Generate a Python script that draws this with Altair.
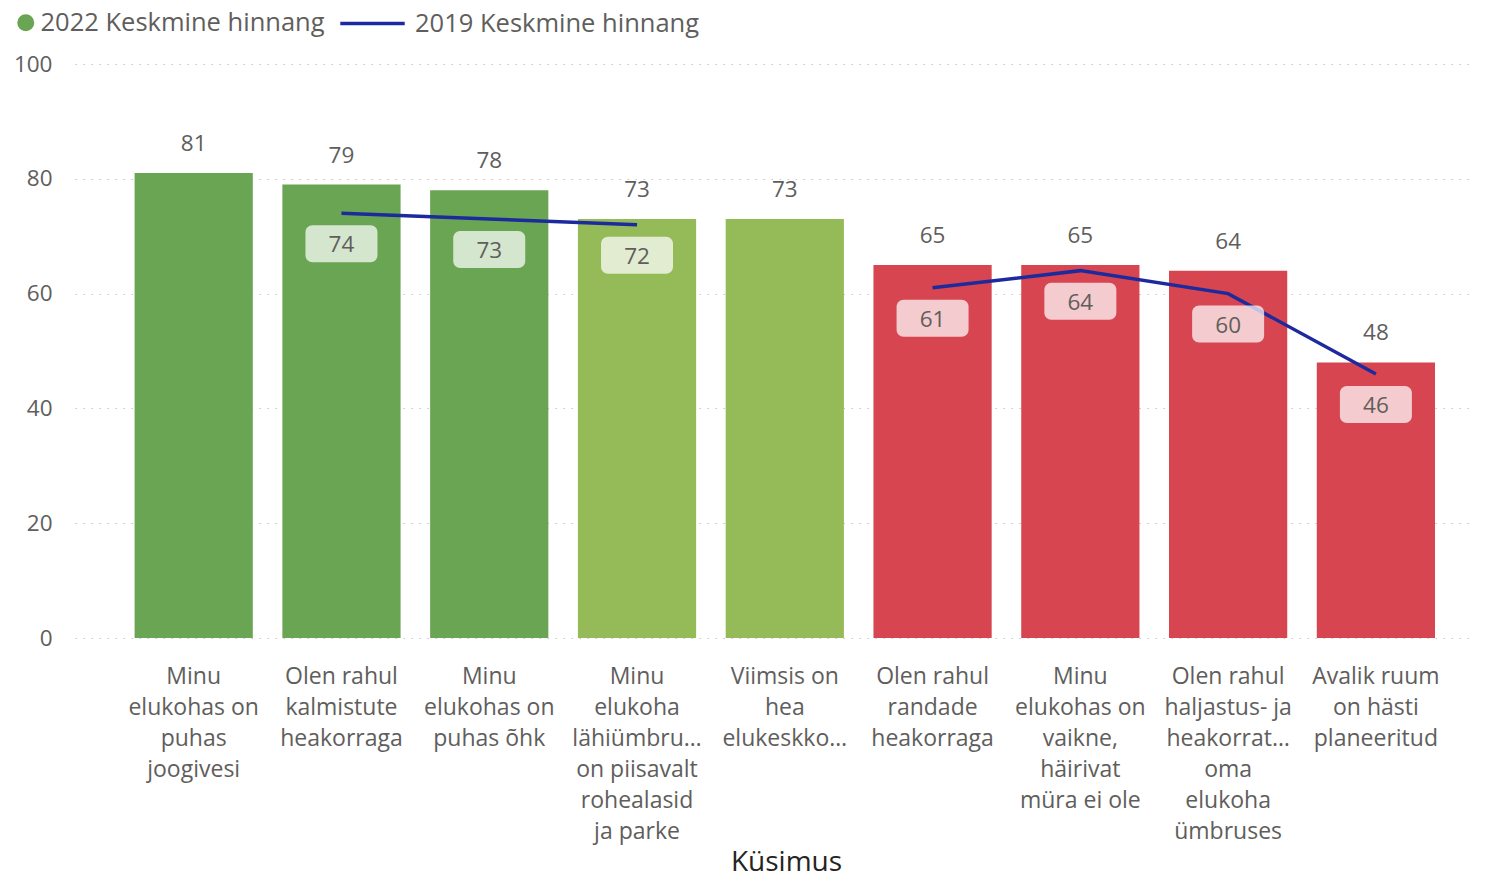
import altair as alt
import pandas as pd

# ---- data ----
categories = [
    "Minu|elukohas on|puhas|joogivesi",
    "Olen rahul|kalmistute|heakorraga",
    "Minu|elukohas on|puhas õhk",
    "Minu|elukoha|lähiümbru…|on piisavalt|rohealasid|ja parke",
    "Viimsis on|hea|elukeskko…",
    "Olen rahul|randade|heakorraga",
    "Minu|elukohas on|vaikne,|häirivat|müra ei ole",
    "Olen rahul|haljastus- ja|heakorrat…|oma|elukoha|ümbruses",
    "Avalik ruum|on hästi|planeeritud",
]
values_2022 = [81, 79, 78, 73, 73, 65, 65, 64, 48]
values_2019 = [None, 74, 73, 72, None, 61, 64, 60, 46]
segment_2019 = [None, "a", "a", "a", None, "b", "b", "b", "b"]
tier = ["high", "high", "high", "mid", "mid", "low", "low", "low", "low"]
tier_names = ["high", "mid", "low"]
tier_colors = ["#6aa553", "#95ba58", "#d64550"]
series_2022 = "2022 Keskmine hinnang"
series_2019 = "2019 Keskmine hinnang"
color_2022 = "#6aa553"
color_2019 = "#1c2a9e"
y_ticks = [0, 20, 40, 60, 80, 100]

FONT = "Segoe UI, Open Sans, sans-serif"
GREY = "#605e5c"

df = pd.DataFrame({
    "cat": categories,
    "v2022": values_2022,
    "v2019": values_2019,
    "seg": segment_2019,
    "tier": tier,
    "series": series_2022,
})
df19 = df.dropna(subset=["v2019"]).copy()
df19["series"] = series_2019

xs = alt.X("cat:N", sort=categories)
x = alt.X(
    "cat:N",
    sort=categories,
    scale=alt.Scale(paddingInner=0.2, paddingOuter=0.32, align=0.63),
    axis=alt.Axis(
        title="Küsimus",
        labelExpr="split(datum.label, '|')",
        labelAngle=0,
        labelAlign="center",
        labelFont=FONT,
        labelFontSize=23,
        labelColor=GREY,
        labelLineHeight=31,
        labelPadding=27,
        labelLimit=400,
        labelBaseline="top",
        ticks=False,
        domain=False,
        grid=False,
        titleFont=FONT,
        titleFontSize=28,
        titleFontWeight="normal",
        titleColor="#252423",
        titlePadding=10,
        titleX=711,
        titleAlign="center",
    ),
)
y_scale = alt.Scale(domain=[0, 100], nice=False)
y_axis = alt.Axis(
    title=None,
    values=y_ticks,
    labelFont=FONT,
    labelFontSize=22.5,
    labelColor=GREY,
    labelPadding=23,
    ticks=False,
    domain=False,
    grid=True,
    gridColor="#c8c8c8",
    gridDash=[1.5, 6.5],
    gridWidth=1.2,
)

legend_common = dict(
    title=None,
    orient="none",
    direction="horizontal",
    labelFont=FONT,
    labelFontSize=25.5,
    labelColor=GREY,
    labelLimit=500,
    legendY=-54,
)

# legend carrier for the 2022 series: circles sitting inside the bars
legend_pts = alt.Chart(df).mark_circle(size=100, yOffset=120, opacity=1).encode(
    x=xs,
    y=alt.Y("v2022:Q", scale=y_scale),
    color=alt.Color(
        "series:N",
        scale=alt.Scale(domain=[series_2022], range=[color_2022]),
        legend=alt.Legend(legendX=-62, symbolType="circle", symbolSize=289, labelOffset=2,
                          **legend_common),
    ),
)

bars = alt.Chart(df).mark_bar().encode(
    x=x,
    y=alt.Y("v2022:Q", scale=y_scale, axis=y_axis),
    fill=alt.Fill("tier:N", scale=alt.Scale(domain=tier_names, range=tier_colors), legend=None),
)

bar_labels = alt.Chart(df).mark_text(
    font=FONT, fontSize=22.5, color=GREY, baseline="middle", dy=-29
).encode(x=xs, y=alt.Y("v2022:Q", scale=y_scale), text="v2022:Q")

line = alt.Chart(df19).mark_line(strokeWidth=3.5).encode(
    x=xs,
    y=alt.Y("v2019:Q", scale=y_scale),
    detail="seg:N",
    stroke=alt.Stroke(
        "series:N",
        scale=alt.Scale(domain=[series_2019], range=[color_2019]),
        legend=alt.Legend(legendX=284, symbolType="M-2.8,0H2.8", symbolSize=529,
                          symbolStrokeWidth=3.5, labelOffset=29, **legend_common),
    ),
)

boxes = alt.Chart(df19).mark_bar(
    width=72, yOffset=12, y2Offset=49, cornerRadius=7, color="white", opacity=0.72
).encode(x=xs, y=alt.Y("v2019:Q", scale=y_scale), y2="v2019:Q")

box_labels = alt.Chart(df19).mark_text(
    font=FONT, fontSize=22.5, color=GREY, baseline="middle", dy=32
).encode(x=xs, y=alt.Y("v2019:Q", scale=y_scale), text="v2019:Q")

chart = alt.layer(legend_pts, bars, bar_labels, line, boxes, box_labels).resolve_scale(
    color="independent", stroke="independent"
).properties(
    width=1395,
    height=574,
    padding={"left": 5, "top": 2, "right": 0, "bottom": 4},
).configure_view(stroke=None)

chart.save("out.html", embed_options={"renderer": "svg", "actions": False})
